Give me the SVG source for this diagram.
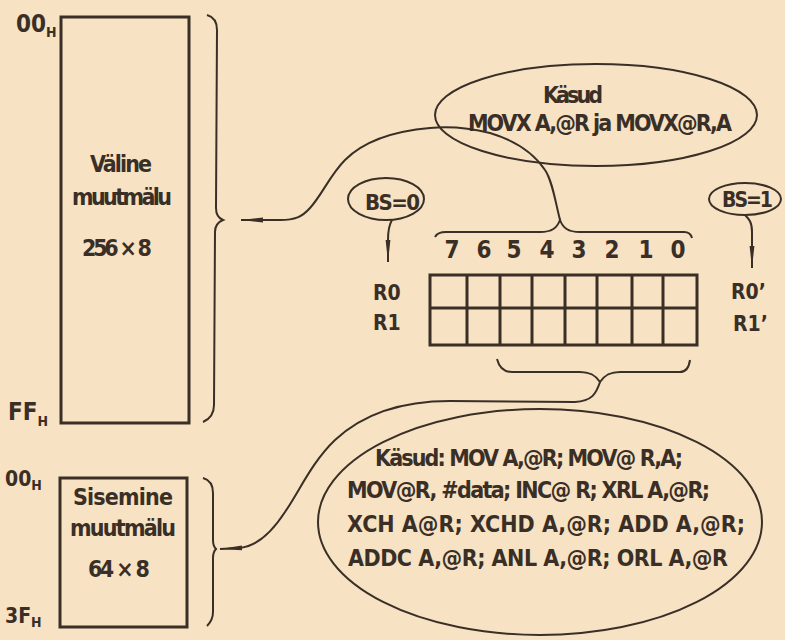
<svg xmlns="http://www.w3.org/2000/svg" width="785" height="640" viewBox="0 0 785 640">
<style>
text{font-family:"DejaVu Sans Condensed","Liberation Sans Narrow","Liberation Sans",sans-serif;font-weight:bold;fill:#3a2f27}
.ln{fill:none;stroke:#3a2f27;stroke-width:2}
.box{fill:none;stroke:#3a2f27;stroke-width:3}
.grid{fill:none;stroke:#3a2f27;stroke-width:3}
.lbl{font-size:23px}
.sub{font-size:14px}
.cmd{font-size:23px}
.dig{font-size:24px;text-anchor:middle}
</style>
<defs>
<marker id="ah" markerUnits="userSpaceOnUse" viewBox="0 0 22 8" refX="22" refY="4" markerWidth="22" markerHeight="8" orient="auto">
<path d="M0,1.6 L22,4 L0,6.4 z" fill="#3a2f27"/>
</marker>
</defs>
<rect width="785" height="640" fill="#f7e2c3"/>

<g id="valine">
<rect class="box" x="61" y="17" width="128" height="406"/>
<text class="lbl" x="121" y="172" text-anchor="middle" textLength="62">Väline</text>
<text class="lbl" x="122" y="205" text-anchor="middle" textLength="100">muutmälu</text>
<text class="lbl" x="117" y="256" text-anchor="middle" textLength="70">256 × 8</text>
</g>
<g id="valine-addr">
<text x="16" y="32" font-size="24">00<tspan class="sub" dy="5">H</tspan></text>
<text x="8" y="420" font-size="24">FF<tspan class="sub" dy="6">H</tspan></text>
</g>

<g id="sisemine">
<rect class="box" x="60" y="478" width="127" height="149"/>
<text class="lbl" x="123" y="505" text-anchor="middle" textLength="100">Sisemine</text>
<text class="lbl" x="123" y="536" text-anchor="middle" textLength="106">muutmälu</text>
<text class="lbl" x="119" y="577" text-anchor="middle" textLength="62">64 × 8</text>
</g>
<g id="sisemine-addr">
<text x="5" y="486" font-size="21">00<tspan class="sub" dy="4">H</tspan></text>
<text x="5" y="623" font-size="21">3F<tspan class="sub" dy="4">H</tspan></text>
</g>

<g id="top-ellipse">
<ellipse class="ln" cx="596" cy="115" rx="161" ry="51"/>
<text class="lbl" x="573" y="103" text-anchor="middle" textLength="60">Käsud</text>
<text class="lbl" x="468" y="131" textLength="264">MOVX A,@R ja MOVX@R,A</text>
</g>

<g id="bs0">
<ellipse class="ln" cx="386" cy="199" rx="38" ry="21"/>
<text x="365" y="210" font-size="22" textLength="55">BS=0</text>
</g>
<g id="bs1">
<ellipse class="ln" cx="745" cy="199" rx="36" ry="16"/>
<text x="722" y="207" font-size="21" textLength="51">BS=1</text>
</g>

<g id="register">
<rect class="grid" x="430" y="275" width="267" height="70"/>
<path class="grid" d="M430,308 H697 M467,275 V345 M500,275 V345 M532,275 V345 M565,275 V345 M597,275 V345 M632,275 V345 M663,275 V345"/>
<text class="dig" x="452" y="258">7</text>
<text class="dig" x="484" y="258">6</text>
<text class="dig" x="514" y="258">5</text>
<text class="dig" x="547" y="258">4</text>
<text class="dig" x="579" y="258">3</text>
<text class="dig" x="612" y="258">2</text>
<text class="dig" x="646" y="258">1</text>
<text class="dig" x="678" y="258">0</text>
<text x="373" y="300" font-size="21">R0</text>
<text x="373" y="330" font-size="21">R1</text>
<text x="731" y="299" font-size="21">R0’</text>
<text x="733" y="331" font-size="21">R1’</text>
</g>

<g id="bottom-ellipse">
<ellipse class="ln" cx="540" cy="522" rx="222" ry="113"/>
<text class="cmd" x="375" y="466" textLength="308">Käsud: MOV A,@R; MOV@ R,A;</text>
<text class="cmd" x="347" y="498" textLength="363">MOV@R, #data; INC@ R; XRL A,@R;</text>
<text class="cmd" x="347" y="532" textLength="398">XCH  A@R; XCHD A,@R; ADD A,@R;</text>
<text class="cmd" x="348" y="566" textLength="380">ADDC A,@R; ANL  A,@R; ORL  A,@R</text>
</g>

<g id="connectors">
<path class="ln" d="M207,15 C214,17 217,22 217,30 L216,208 C216,214 218,218 223,220 C218,222 215,226 215,232 L214,405 C214,414 210,419 203,422"/>
<path class="ln" d="M203,478 C210,480 213,485 213,493 L213,540 C213,545 214,547 216,549 C214,551 213,553 213,558 L213,612 C213,618 211,622 207,626"/>
<path class="ln" d="M435,237 C437,233 440,232 446,232 L540,232 C552,232 557,228 560,220 C563,228 568,232 580,232 L684,232 C689,232 691,234 692,238"/>
<path class="ln" d="M497,359 C499,367 503,372 512,372 L580,372 C591,372 596,376 600,382 C604,376 609,372 620,372 L680,372 C686,372 689,367 690,360"/>
<path class="ln" marker-end="url(#ah)" d="M560,220 C555,200 552,180 545,170 C535,155 520,142 490,133 C470,128 450,126 430,128 C395,131 365,140 345,160 C330,175 322,195 310,208 C302,217 295,220 280,220 L241,220"/>
<path class="ln" marker-end="url(#ah)" d="M600,382 C596,394 592,401 575,402 L450,401 C405,401 365,412 335,440 C312,462 300,490 285,512 C272,532 258,546 240,548 L220,549"/>
<path class="ln" marker-end="url(#ah)" d="M392,220 C389,225 388,230 388,240 L388,262"/>
<path class="ln" marker-end="url(#ah)" d="M745,215 C749,219 752,222 752,232 L752,268"/>
</g>
</svg>
